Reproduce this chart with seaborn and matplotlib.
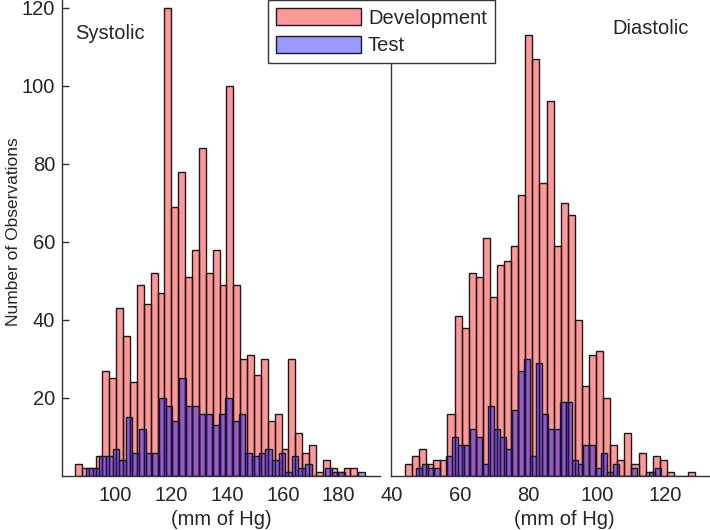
import numpy as np
import pandas as pd
import matplotlib
matplotlib.use("Agg")
import matplotlib.pyplot as plt
from matplotlib.colors import to_rgba
from matplotlib.patches import Patch
import seaborn as sns

# Systolic histograms (counts per bin)
sys_dev_start, sys_dev_width = 85.4, 2.47
sys_dev_counts = [3, 2, 2, 5, 27, 25, 43, 36, 24, 49, 44, 52, 47, 120, 69, 78, 51, 58, 84, 52,
                  58, 49, 100, 49, 30, 31, 26, 30, 14, 16, 7, 30, 11, 6, 8, 1, 4, 2, 1, 2, 2]
sys_test_start, sys_test_width = 89.4, 2.38
sys_test_counts = [2, 2, 5, 5, 7, 4, 15, 6, 12, 6, 6, 20, 18, 14, 25, 18, 18, 16, 16, 13, 16,
                   20, 14, 16, 6, 5, 6, 7, 4, 6, 1, 5, 2, 3, 0, 0, 2, 1, 1, 0, 0, 1]

# Diastolic histograms
dia_dev_start, dia_dev_width = 43.8, 2.07
dia_dev_counts = [3, 5, 7, 3, 4, 4, 16, 41, 38, 52, 51, 61, 46, 54, 55, 59, 72, 113, 107, 75,
                  96, 59, 70, 67, 40, 23, 31, 32, 20, 8, 4, 11, 3, 6, 1, 5, 4, 1, 0, 0, 1]
dia_test_start, dia_test_width = 47.0, 1.75
dia_test_counts = [2, 3, 2, 2, 0, 5, 10, 8, 8, 12, 10, 3, 18, 12, 10, 7, 17, 27, 30, 5, 29,
                   16, 12, 12, 19, 19, 4, 3, 8, 8, 2, 6, 1, 3, 0, 0, 2, 0, 0, 1, 2]

sys_ticks = [100, 120, 140, 160, 180]
dia_ticks = [40, 60, 80, 100, 120]
y_ticks = [20, 40, 60, 80, 100, 120]

dev_color = to_rgba("red", 0.4)
test_color = to_rgba("blue", 0.4)
edge_color = "#1a1a1a"

sns.set_style("white")
plt.rcParams["font.family"] = ["Liberation Sans", "DejaVu Sans"]
plt.rcParams["font.size"] = 14


def draw_hist(ax, start, width, counts, color):
    edges = start + width * np.arange(len(counts) + 1)
    df = pd.DataFrame({"value": (edges[:-1] + edges[1:]) / 2,
                       "count": np.asarray(counts, dtype=float)})
    n_before = len(ax.patches)
    sns.histplot(data=df, x="value", weights="count", bins=list(edges), ax=ax,
                 color=color[:3], alpha=color[3], linewidth=1.0)
    # keep the fill translucent but the outlines solid
    for p in ax.patches[n_before:]:
        p.set_alpha(None)
        p.set_facecolor(color)
        p.set_edgecolor(edge_color)
        p.set_linewidth(1.0)


fig = plt.figure(figsize=(7.1, 5.3), dpi=100)
W, H = 710, 530
ax1 = fig.add_axes([62 / W, 1 - 476 / H, (380 - 62) / W, 476 / H])
ax2 = fig.add_axes([391 / W, 1 - 476 / H, (737 - 391) / W, 476 / H])

draw_hist(ax1, sys_dev_start, sys_dev_width, sys_dev_counts, dev_color)
draw_hist(ax1, sys_test_start, sys_test_width, sys_test_counts, test_color)
draw_hist(ax2, dia_dev_start, dia_dev_width, dia_dev_counts, dev_color)
draw_hist(ax2, dia_test_start, dia_test_width, dia_test_counts, test_color)

for ax in (ax1, ax2):
    ax.set_ylim(0, 122)
    for side in ("top", "right"):
        ax.spines[side].set_visible(False)
    for side in ("left", "bottom"):
        ax.spines[side].set_color("#333333")
        ax.spines[side].set_linewidth(1.0)
    ax.set_xlabel("(mm of Hg)", fontsize=14.5, labelpad=4)
    ax.tick_params(axis="x", length=0, pad=7, labelsize=14.5)

ax1.set_xlim(80.8, 194.8)
ax1.set_xticks(sys_ticks)
ax1.set_yticks(y_ticks)
ax1.tick_params(axis="y", direction="in", length=5, width=1, color="#333333",
                pad=5, labelsize=14.5, left=True)
ax1.set_ylabel("Number of Observations", fontsize=12.5)
ax1.yaxis.set_label_coords(-0.128, 0.513)
ax1.text(0.041, 0.93, "Systolic", transform=ax1.transAxes, fontsize=14.5,
         ha="left", va="center")

ax2.set_xlim(39.7, 140.9)
ax2.set_xticks(dia_ticks)
ax2.set_yticks([])
ax2.set_ylabel("")
ax2.text(0.751, 0.94, "Diastolic", transform=ax2.transAxes, fontsize=14.5,
         ha="center", va="center")

handles = [Patch(facecolor=dev_color, edgecolor=edge_color, linewidth=1.0),
           Patch(facecolor=test_color, edgecolor=edge_color, linewidth=1.0)]
leg = fig.legend(handles, ["Development", "Test"], loc="upper center",
                 bbox_to_anchor=(381.5 / W, 1.0), fontsize=14.5, frameon=True,
                 fancybox=False, framealpha=1, edgecolor="#333333",
                 handlelength=4.2, handleheight=0.95, handletextpad=0.35,
                 labelspacing=0.4, borderpad=0.4, borderaxespad=0)
leg.get_frame().set_linewidth(1.0)
leg.set_zorder(10)

fig.savefig("out.png", dpi=100)
